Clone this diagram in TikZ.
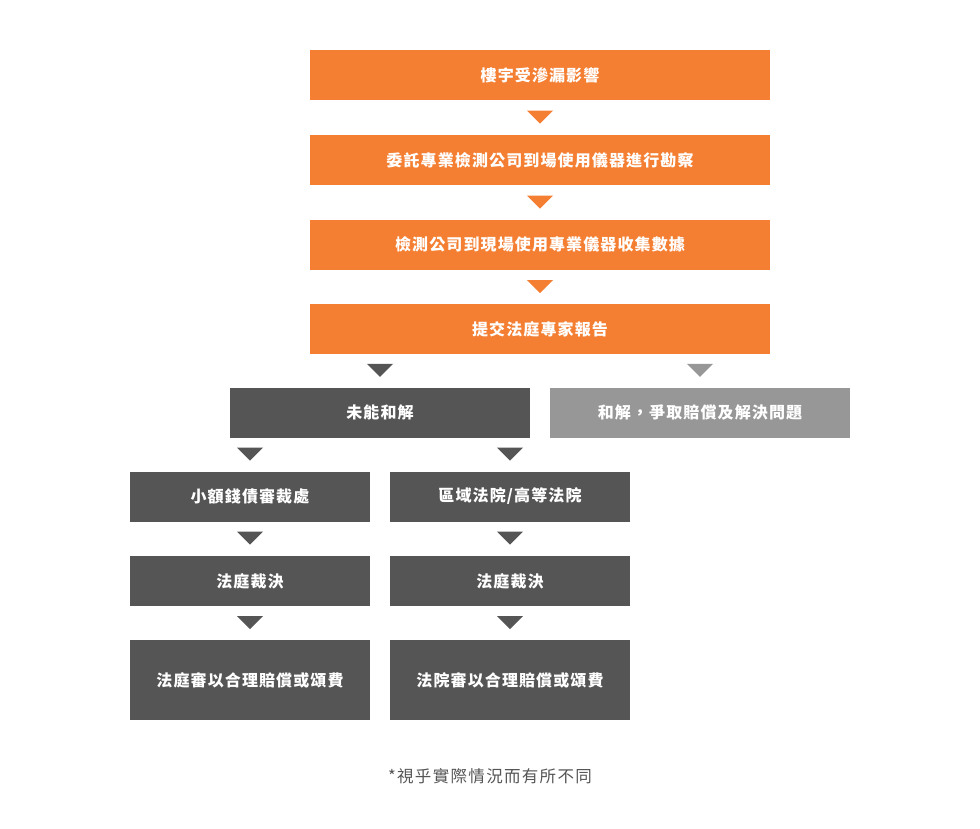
\documentclass[tikz,border=0pt]{standalone}
\usepackage{fontspec}
\setmainfont{Noto Sans CJK TC}
\usetikzlibrary{calc,positioning}
\definecolor{leakorange}{HTML}{F47F32}
\definecolor{leakdark}{HTML}{555555}
\definecolor{leaklight}{HTML}{979797}
\tikzset{
  stepbox/.style={inner sep=0pt, align=center, text=white, minimum height=50pt,
    font=\addfontfeature{LetterSpace=7}\fontsize{16pt}{19pt}\selectfont\bfseries},
  orbox/.style={stepbox, fill=leakorange, minimum width=460pt},
  dkbox/.style={stepbox, fill=leakdark, minimum width=300pt},
  ltbox/.style={stepbox, fill=leaklight, minimum width=300pt},
  smbox/.style={stepbox, fill=leakdark, minimum width=240pt},
}
% filled down-pointing triangle in the gap between two boxes
\newcommand{\tridown}[3]{%
  \fill[#3] ($(#1.south -| #2.north)!0.5!(#2.north)$) ++(-13,-7) -- ++(26,0) -- ++(-13,13) -- cycle;}

\begin{document}
\begin{tikzpicture}[x=1pt, y=-1pt]
    \useasboundingbox (0,0) rectangle (980,828);
    % orange chain
    \node[orbox] (leak) at (540,75) {樓宇受滲漏影響};
    \node[orbox, below=35pt of leak] (hire) {委託專業檢測公司到場使用儀器進行勘察};
    \node[orbox, below=34pt of hire] (data) {檢測公司到現場使用專業儀器收集數據};
    \node[orbox, below=34pt of data] (report) {提交法庭專家報告};
    % outcomes
    \node[dkbox] (nodeal) at (380,412.5) {未能和解};
    \node[ltbox] (deal) at (700,412.5) {和解，爭取賠償及解決問題};
    \node[smbox] (small) at (250,496.5) {小額錢債審裁處};
    \node[smbox] (court) at (510,496.5) {區域法院/高等法院};
    \node[smbox, below=34pt of small] (rule1) {法庭裁決};
    \node[smbox, below=34pt of court] (rule2) {法庭裁決};
    \node[smbox, minimum height=80pt, below=34pt of rule1] (pay1) {法庭審以合理賠償或頌費};
    \node[smbox, minimum height=80pt, below=34pt of rule2] (pay2) {法院審以合理賠償或頌費};
    \node[text=leakdark, font=\addfontfeature{LetterSpace=8}\fontsize{16.5pt}{20pt}\selectfont] (note) at (490,776) {*視乎實際情況而有所不同};
    % arrows
    \tridown{leak}{hire}{leakorange}
    \tridown{hire}{data}{leakorange}
    \tridown{data}{report}{leakorange}
    \tridown{report}{nodeal}{leakdark}
    \tridown{report}{deal}{leaklight}
    \tridown{nodeal}{small}{leakdark}
    \tridown{nodeal}{court}{leakdark}
    \tridown{small}{rule1}{leakdark}
    \tridown{court}{rule2}{leakdark}
    \tridown{rule1}{pay1}{leakdark}
    \tridown{rule2}{pay2}{leakdark}
\end{tikzpicture}
\end{document}
